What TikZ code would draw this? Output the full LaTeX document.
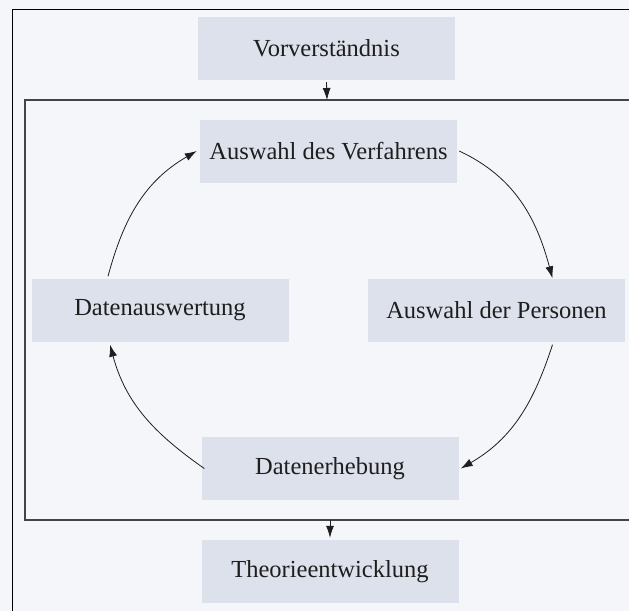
\documentclass[tikz,border=0pt]{standalone}
\usepackage{fontspec}
\setmainfont{Liberation Serif}
\usepackage{tikz}
\usetikzlibrary{arrows.meta, calc}
\definecolor{pagebg}  {RGB}{244, 246, 250}
\definecolor{boxfill} {RGB}{221, 225, 235}
\definecolor{framegray}{RGB}{ 70,  66,  70}
\definecolor{arrowdark}{RGB}{ 30,  30,  30}

\begin{document}
\begin{tikzpicture}[x=1pt,y=1pt,
		stage/.style={fill=boxfill, minimum width=257pt, minimum height=63pt,
			inner sep=0pt, text=arrowdark, font=\fontsize{24.5}{29}\selectfont},
		flow/.style={arrowdark, line width=0.8pt, -{Latex[length=12pt,width=8pt]}}]
	\fill[pagebg] (0,0) rectangle (629,-611);
	\useasboundingbox (0,0) rectangle (629,-611);
	% scan border and frame of the cycle
	\draw[black, line width=0.8pt] (12,-611) -- (12,-9) -- (629,-9);
	\draw[framegray, line width=1.2pt] (629,-100) -- (25,-100) -- (25,-520) -- (629,-520);
	\coordinate (frametop) at (327,-100);
	\coordinate (framebot) at (330,-520);
	% stages
	\node[stage] (vor)  at (326.5,-48.5) {Vorverständnis};
	\node[stage] (verf) at (328.5,-151)  {Auswahl des Verfahrens};
	\node[stage] (ausw) at (160,-310)    {Datenauswertung};
	\node[stage] (pers) at (496.5,-310)  {Auswahl der Personen};
	\node[stage] (erh)  at (330,-468.5)  {Datenerhebung};
	\node[stage] (theo) at (330,-571.5)  {Theorieentwicklung};
	% arrows
	\draw[flow] ([yshift=-2pt]vor.south) -- (frametop);
	\draw[flow] (framebot) -- ([yshift=2pt]theo.north);
	\draw[flow] ([xshift=2pt]verf.east) to[out=-25,in=105] ([xshift=56pt]pers.north);
	\draw[flow] ([xshift=56pt,yshift=-3pt]pers.south) to[out=-108,in=30] ([xshift=2pt]erh.east);
	\draw[flow] ([xshift=3pt]erh.west) to[out=145,in=-75] ([xshift=-50pt,yshift=-3pt]ausw.south);
	\draw[flow] ([xshift=-52pt,yshift=2pt]ausw.north) to[out=75,in=210] ([xshift=-3pt]verf.west);
\end{tikzpicture}
\end{document}
